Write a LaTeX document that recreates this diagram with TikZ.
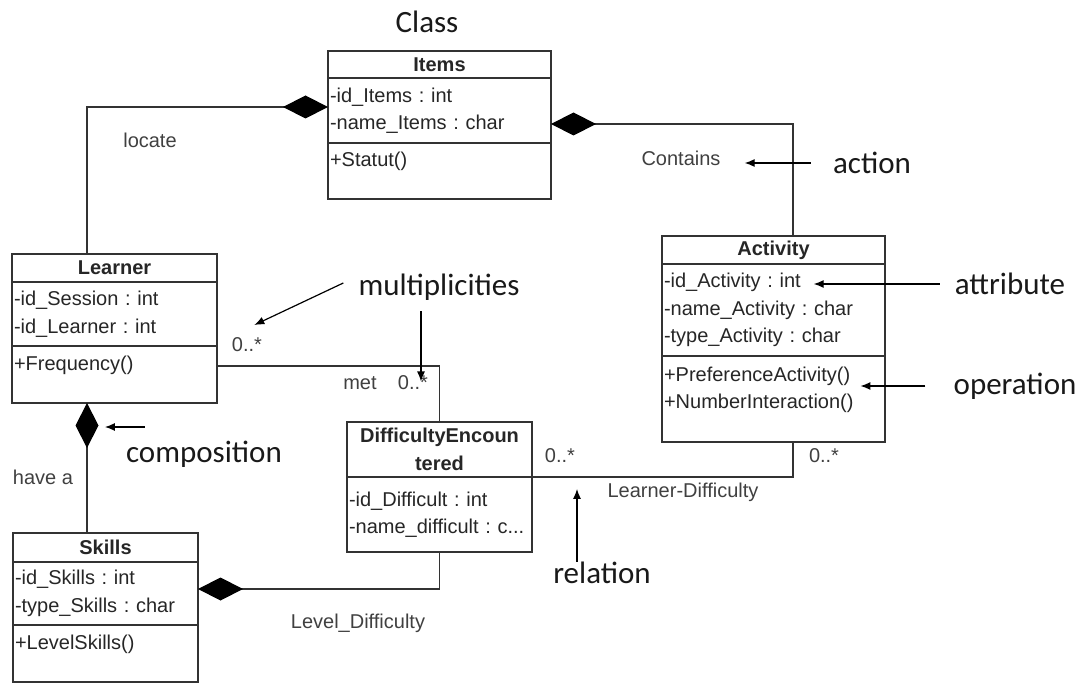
\documentclass[tikz,border=0pt]{standalone}
\usepackage{fontspec}
\setmainfont{Liberation Sans}
\newfontfamily\notefont{Carlito}
\usetikzlibrary{positioning,arrows.meta}

\tikzset{
  umlhead/.style={draw=black!80, line width=1.4pt, outer sep=0pt, inner xsep=2pt, inner ysep=0pt,
    align=center, font=\bfseries\fontsize{20}{27.5}\selectfont, text=black!85},
  umlpart/.style={draw=black!80, line width=1.4pt, outer sep=0pt, inner xsep=2pt, inner ysep=0pt,
    align=left, font=\fontsize{20}{27.5}\selectfont, text=black!85},
  assoc/.style={draw=black!80, line width=1.4pt},
  compo/.style={assoc, -{Diamond[length=45pt,width=23pt,color=black]}},
  rolelabel/.style={font=\fontsize{20}{24}\selectfont, text=black!75, inner sep=0pt},
  notelabel/.style={font=\notefont\fontsize{31}{36}\selectfont, text=black!90, inner sep=0pt},
  notearrow/.style={line width=1.2pt, -{Latex[length=10pt,width=8pt]}}
}

\begin{document}
\frenchspacing
\begin{tikzpicture}[x=1pt, y=-1pt]
  \useasboundingbox (0,0) rectangle (1086,684);

  % classes
  \begin{scope}[text width=219pt]
    \node[umlhead, anchor=north west, minimum height=27pt] (items) at (328,51) {Items};
    \node[umlpart, below=0pt of items, minimum height=65pt] (items-a) {-id\_Items : int\\-name\_Items : char};
    \node[umlpart, below=0pt of items-a, minimum height=56pt] (items-o) {+Statut()\\[-5pt]\mbox{}};
  \end{scope}
  \begin{scope}[text width=201pt]
    \node[umlhead, anchor=north west, minimum height=28pt] (learner) at (12,254) {Learner};
    \node[umlpart, below=0pt of learner, minimum height=64pt] (learner-a) {-id\_Session : int\\-id\_Learner : int};
    \node[umlpart, below=0pt of learner-a, minimum height=57pt] (learner-o) {+Frequency()\\[-5pt]\mbox{}};
  \end{scope}
  \begin{scope}[text width=219pt]
    \node[umlhead, anchor=north west, minimum height=28pt] (act) at (662,236) {Activity};
    \node[umlpart, below=0pt of act, minimum height=92pt] (act-a) {-id\_Activity : int\\-name\_Activity : char\\-type\_Activity : char};
    \node[umlpart, below=0pt of act-a, minimum height=86pt] (act-o) {+PreferenceActivity()\\+NumberInteraction()\\[-5pt]\mbox{}};
  \end{scope}
  \begin{scope}[text width=181pt]
    \node[umlhead, anchor=north west, minimum height=29pt] (skills) at (13,533) {Skills};
    \node[umlpart, below=0pt of skills, minimum height=63pt] (skills-a) {-id\_Skills : int\\-type\_Skills : char};
    \node[umlpart, below=0pt of skills-a, minimum height=57pt] (skills-o) {+LevelSkills()\\[-5pt]\mbox{}};
    \node[umlhead, anchor=north west, minimum height=55pt] (diff) at (347,422) {DifficultyEncoun\\tered};
    \node[umlpart, below=0pt of diff, minimum height=75pt] (diff-a) {-id\_Difficult : int\\-name\_difficult : c...};
  \end{scope}

  % relations
  \draw[compo] ([xshift=-27.5pt]learner.north) |- ([yshift=3.5pt]items-a.west);
  \draw[compo] ([xshift=19.5pt]act.north) |- ([yshift=-13.5pt]items-a.east);
  \draw[assoc] ([yshift=8.5pt]learner-o.east) -| (diff.north);
  \draw[compo] ([xshift=-18.5pt]skills.north) -- ([xshift=-27.5pt]learner-o.south);
  \draw[compo] (diff-a.south) |- ([yshift=4.5pt]skills-a.east);
  \draw[assoc] ([xshift=19.5pt]act-o.south) |- (diff-a.north east);

  \node[rolelabel] (locate) at (150,140) {locate};
  \node[rolelabel] (contains) at (681,158) {Contains};
  \node[rolelabel] (met) at (360,383) {met};
  \node[rolelabel] (m-met) at (413,383) {0..*};
  \node[rolelabel] (m-learner) at (247,345) {0..*};
  \node[rolelabel] (hasa) at (43,477) {have a};
  \node[rolelabel] (m-diff) at (560,456) {0..*};
  \node[rolelabel] (m-act) at (824,456) {0..*};
  \node[rolelabel] (ld) at (683,492) {Learner-Difficulty};
  \node[rolelabel] (lvl) at (358,623) {Level\_Difficulty};

  % notes
  \node[notelabel] (class) at (427,22) {Class};
  \node[notelabel] (action) at (872,163) {action};
  \node[notelabel] (attribute) at (1010,284) {attribute};
  \node[notelabel] (operation) at (1015,386) {operation};
  \node[notelabel] (multi) at (439,287) {multiplicities};
  \node[notelabel] (composition) at (204,454) {composition};
  \node[notelabel] (relation) at (602,573) {relation};

  \draw[notearrow] ([xshift=-22pt]action.west) -- ([xshift=24pt]contains.east |- action.west);
  \draw[notearrow] ([xshift=-15pt]attribute.west) -- ++(-126,0);
  \draw[notearrow] ([xshift=-28pt]operation.west) -- ++(-65,0);
  \draw[notearrow] ([xshift=-15pt,yshift=4pt]multi.west) -- ++(-89,42);
  \draw[notearrow] ([xshift=-18pt,yshift=-11pt]multi.south) -- ++(0,70);
  \draw[notearrow] ([xshift=19pt,yshift=27pt]composition.west) -- ++(-40,0);
  \draw[notearrow] ([xshift=-25pt]relation.north) -- ++(0,-73);
\end{tikzpicture}
\end{document}
